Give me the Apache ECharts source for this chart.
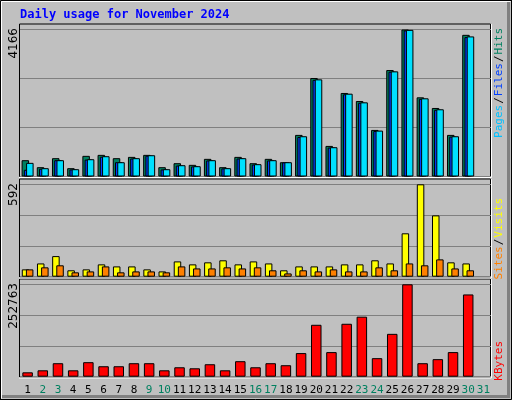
<!DOCTYPE html>
<html><head><meta charset="utf-8">
<script src="https://cdn.jsdelivr.net/npm/echarts@6/dist/echarts.min.js"></script>
<style>html,body{margin:0;padding:0;background:#c0c0c0}#c{width:512px;height:400px}</style>
</head><body><div id="c"></div>
<script>
const days = ['1','2','3','4','5','6','7','8','9','10','11','12','13','14','15','16','17','18','19','20','21','22','23','24','25','26','27','28','29','30','31'];
const weekend = ['2','3','9','10','16','17','23','24','30','31'];
const hits  = [462,264,519,236,585,613,519,556,613,264,377,330,500,264,556,377,500,405,1179,2791,867,2367,2140,1320,3017,4166,2244,1942,1179,4015,'-'];
const files = [387,236,462,207,490,575,405,519,603,207,320,292,462,236,519,349,462,405,1141,2753,830,2347,2102,1301,2980,4156,2216,1905,1141,3970,'-'];
const pages = [190,220,462,200,480,560,405,510,590,200,310,285,455,230,510,340,455,400,1120,2740,820,2330,2090,1290,2970,4140,2200,1890,1130,3950,'-'];
const visits = [47,85,132,41,47,79,66,66,47,34,98,79,92,105,79,98,85,41,66,66,66,79,79,105,85,278,592,393,92,85,'-'];
const sites  = [47,60,73,28,34,66,28,34,34,28,66,53,53,60,53,60,41,21,41,34,47,34,34,60,41,85,73,111,53,41,'-'];
const kbytes = [12000,17500,36900,17500,39700,28600,28600,36900,36900,17500,25800,23000,34100,17500,42400,25800,36900,31400,64600,142000,67300,144800,164200,50700,117200,252763,36900,48000,67300,225000,'-'];
const maxHits = 4166, maxVisits = 592, maxKB = 252763;

const mono = 'DejaVu Sans Mono';
const grids = [
  {left:20, width:471, top:29.5, height:147},
  {left:20, width:471, top:184.3, height:92.4},
  {left:20, width:471, top:284.3, height:92.4}
];
function xa(i, show){
  return {type:'category', gridIndex:i, data:days, boundaryGap:true,
    axisLine:{show:false}, axisTick:{show:false},
    axisLabel:{show:show, interval:0, margin:8, fontFamily:mono, fontSize:11,
      color:(v)=>weekend.includes(v)?'#008060':'#000'}};
}
function ya(i, max){
  return {type:'value', gridIndex:i, min:0, max:max, interval:max/3,
    axisLabel:{show:false}, axisLine:{show:false}, axisTick:{show:false},
    splitLine:{show:true, lineStyle:{color:'#808080', width:1}}};
}
const bs = {borderColor:'#000', borderWidth:1};
const chart = echarts.init(document.getElementById('c'));
function panel(y, h){
  return [
    {type:'rect', shape:{x:19.5,y:y,width:471,height:h}, style:{fill:'none', stroke:'#000', lineWidth:1}, z:-1},
    {type:'polyline', shape:{points:[[491.5,y],[491.5,y+h+1],[19,y+h+1]]}, style:{stroke:'#fff', lineWidth:1, fill:'none'}, z:10}
  ];
}
chart.setOption({
  animation:false,
  backgroundColor:'#c0c0c0',
  grid:grids,
  xAxis:[xa(0,false), xa(1,false), xa(2,true)],
  yAxis:[ya(0,maxHits), ya(1,maxVisits), ya(2,maxKB)],
  series:[
    {type:'bar', xAxisIndex:0, yAxisIndex:0, data:hits, barWidth:7.5, barGap:'-70%', itemStyle:{color:'#008060', ...bs}},
    {type:'bar', xAxisIndex:0, yAxisIndex:0, data:pages, barWidth:7.5, barGap:'-70%', itemStyle:{color:'#0040ff', ...bs}},
    {type:'bar', xAxisIndex:0, yAxisIndex:0, data:files, barWidth:7.5, barGap:'-70%', itemStyle:{color:'#00e0ff', ...bs}},
    {type:'bar', xAxisIndex:1, yAxisIndex:1, data:visits, barWidth:7.5, barGap:'-45%', itemStyle:{color:'#ffff00', ...bs}},
    {type:'bar', xAxisIndex:1, yAxisIndex:1, data:sites, barWidth:7.5, barGap:'-45%', itemStyle:{color:'#ff8000', ...bs}},
    {type:'bar', xAxisIndex:2, yAxisIndex:2, data:kbytes, barWidth:10.5, itemStyle:{color:'#ff0000', ...bs}}
  ],
  graphic:[
    {type:'polyline', shape:{points:[[0.5,399.5],[0.5,0.5],[511.5,0.5]]}, style:{stroke:'#000',fill:'none'}},
    {type:'polyline', shape:{points:[[1.5,398.5],[1.5,1.5],[510.5,1.5]]}, style:{stroke:'#fff',fill:'none'}},
    {type:'polyline', shape:{points:[[2,396.5],[508.5,396.5],[508.5,2]]}, style:{stroke:'#808080',fill:'none',lineWidth:3}},
    {type:'polyline', shape:{points:[[0,399.5],[511.5,399.5],[511.5,0]]}, style:{stroke:'#000',fill:'none'}},
    ...panel(24,152.5), ...panel(179,98), ...panel(279,98),
    {type:'text', x:20, y:15, style:{text:'Daily usage for November 2024', font:'bold 12px "DejaVu Sans Mono"', fill:'#0000ff', verticalAlign:'middle'}},
    {type:'text', x:14, y:28, rotation:Math.PI/2, style:{text:String(maxHits), font:'12px "DejaVu Sans"', fill:'#000', align:'right', verticalAlign:'middle'}},
    {type:'text', x:14, y:183, rotation:Math.PI/2, style:{text:String(maxVisits), font:'12px "DejaVu Sans"', fill:'#000', align:'right', verticalAlign:'middle'}},
    {type:'text', x:14, y:283, rotation:Math.PI/2, style:{text:String(maxKB), font:'12px "DejaVu Sans"', fill:'#000', align:'right', verticalAlign:'middle'}},
    {type:'text', x:499, y:28, rotation:Math.PI/2, style:{text:'{p|Pages}{s|/}{f|Files}{s|/}{h|Hits}', align:'right', verticalAlign:'middle',
      rich:{p:{fill:'#00c0ff',font:'11px "DejaVu Sans Mono"'}, f:{fill:'#0040ff',font:'11px "DejaVu Sans Mono"'}, h:{fill:'#008060',font:'11px "DejaVu Sans Mono"'}, s:{fill:'#000',font:'11px "DejaVu Sans Mono"',padding:[0,1]}}}},
    {type:'text', x:499, y:198, rotation:Math.PI/2, style:{text:'{a|Sites}{s|/}{b|Visits}', align:'right', verticalAlign:'middle',
      rich:{a:{fill:'#ff8000',font:'11px "DejaVu Sans Mono"'}, b:{fill:'#ffff00',font:'11px "DejaVu Sans Mono"'}, s:{fill:'#000',font:'11px "DejaVu Sans Mono"',padding:[0,1]}}}},
    {type:'text', x:499, y:341, rotation:Math.PI/2, style:{text:'KBytes', font:'11px "DejaVu Sans Mono"', fill:'#ff0000', align:'right', verticalAlign:'middle'}}
  ]
});
</script></body></html>
